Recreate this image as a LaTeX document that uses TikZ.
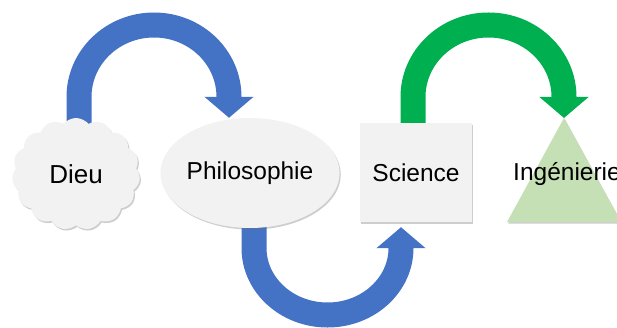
\documentclass[tikz,border=0pt]{standalone}
\usepackage{fontspec}
\setmainfont{Liberation Sans}
\usetikzlibrary{shapes.symbols,shapes.geometric,arrows.meta,shadows}
\pgfdeclarelayer{back}
\pgfsetlayers{back,main}
\definecolor{bandblue}{HTML}{4472C4}
\definecolor{bandgreen}{HTML}{00B050}
\definecolor{boxgray}{HTML}{F2F2F2}
\definecolor{trigreen}{HTML}{C5E0B4}

\begin{document}
\begin{tikzpicture}[x=1pt,y=1pt,
  softshadow/.style={drop shadow={shadow xshift=1.2pt, shadow yshift=-1.6pt, opacity=0.35, fill=black!55}},
  stage/.style={fill=boxgray, inner sep=0pt, softshadow, font=\fontsize{24.5}{29}\selectfont},
  band/.style={line width=25pt, -{Triangle[length=21pt,width=48pt]}},
]
\useasboundingbox (0,0) rectangle (617,327);

% stages
\node[stage, cloud, cloud puffs=15, cloud puff arc=100, aspect=1.1,
      minimum width=128pt, minimum height=112pt,
      font=\fontsize{26}{31}\selectfont] (dieu) at (76,153) {Dieu};
\node[stage, ellipse, minimum width=166pt, minimum height=110pt] (phil) at (250,154) {Philosophie};
\node[stage, rectangle, minimum width=112pt, minimum height=99pt] (sci) at (416,154.5) {Science};

% triangle for the last stage
\coordinate (ingtop) at (564,209);
\fill[trigreen, softshadow] (507,105) -- (ingtop) -- (621,105) -- cycle;
\node[anchor=west, inner sep=0pt, font=\fontsize{24.5}{29}\selectfont] (ing) at (513,153) {Ingénierie};

% curved arrows behind the stages
\begin{pgfonlayer}{back}
  \coordinate (p1) at ([xshift=-21pt]phil.north);
  \draw[band, bandblue] ([xshift=3pt,yshift=-10pt]dieu.north) -- ([xshift=3pt]dieu.north |- 0,230)
        arc[start angle=180, end angle=0, x radius=75pt, y radius=72pt] -- (p1);
  \coordinate (p2) at ([xshift=-15pt,yshift=-5pt]sci.south);
  \draw[band, bandblue] ([xshift=4pt,yshift=10pt]phil.south) -- ([xshift=4pt]phil.south |- 0,79)
        arc[start angle=180, end angle=360, x radius=73.5pt, y radius=67pt] -- (p2);
  \draw[band, bandgreen] ([xshift=-3pt,yshift=-10pt]sci.north) -- ([xshift=-3pt]sci.north |- 0,230)
        arc[start angle=180, end angle=0, x radius=75.5pt, y radius=72pt] -- (ingtop);
\end{pgfonlayer}
\end{tikzpicture}
\end{document}
